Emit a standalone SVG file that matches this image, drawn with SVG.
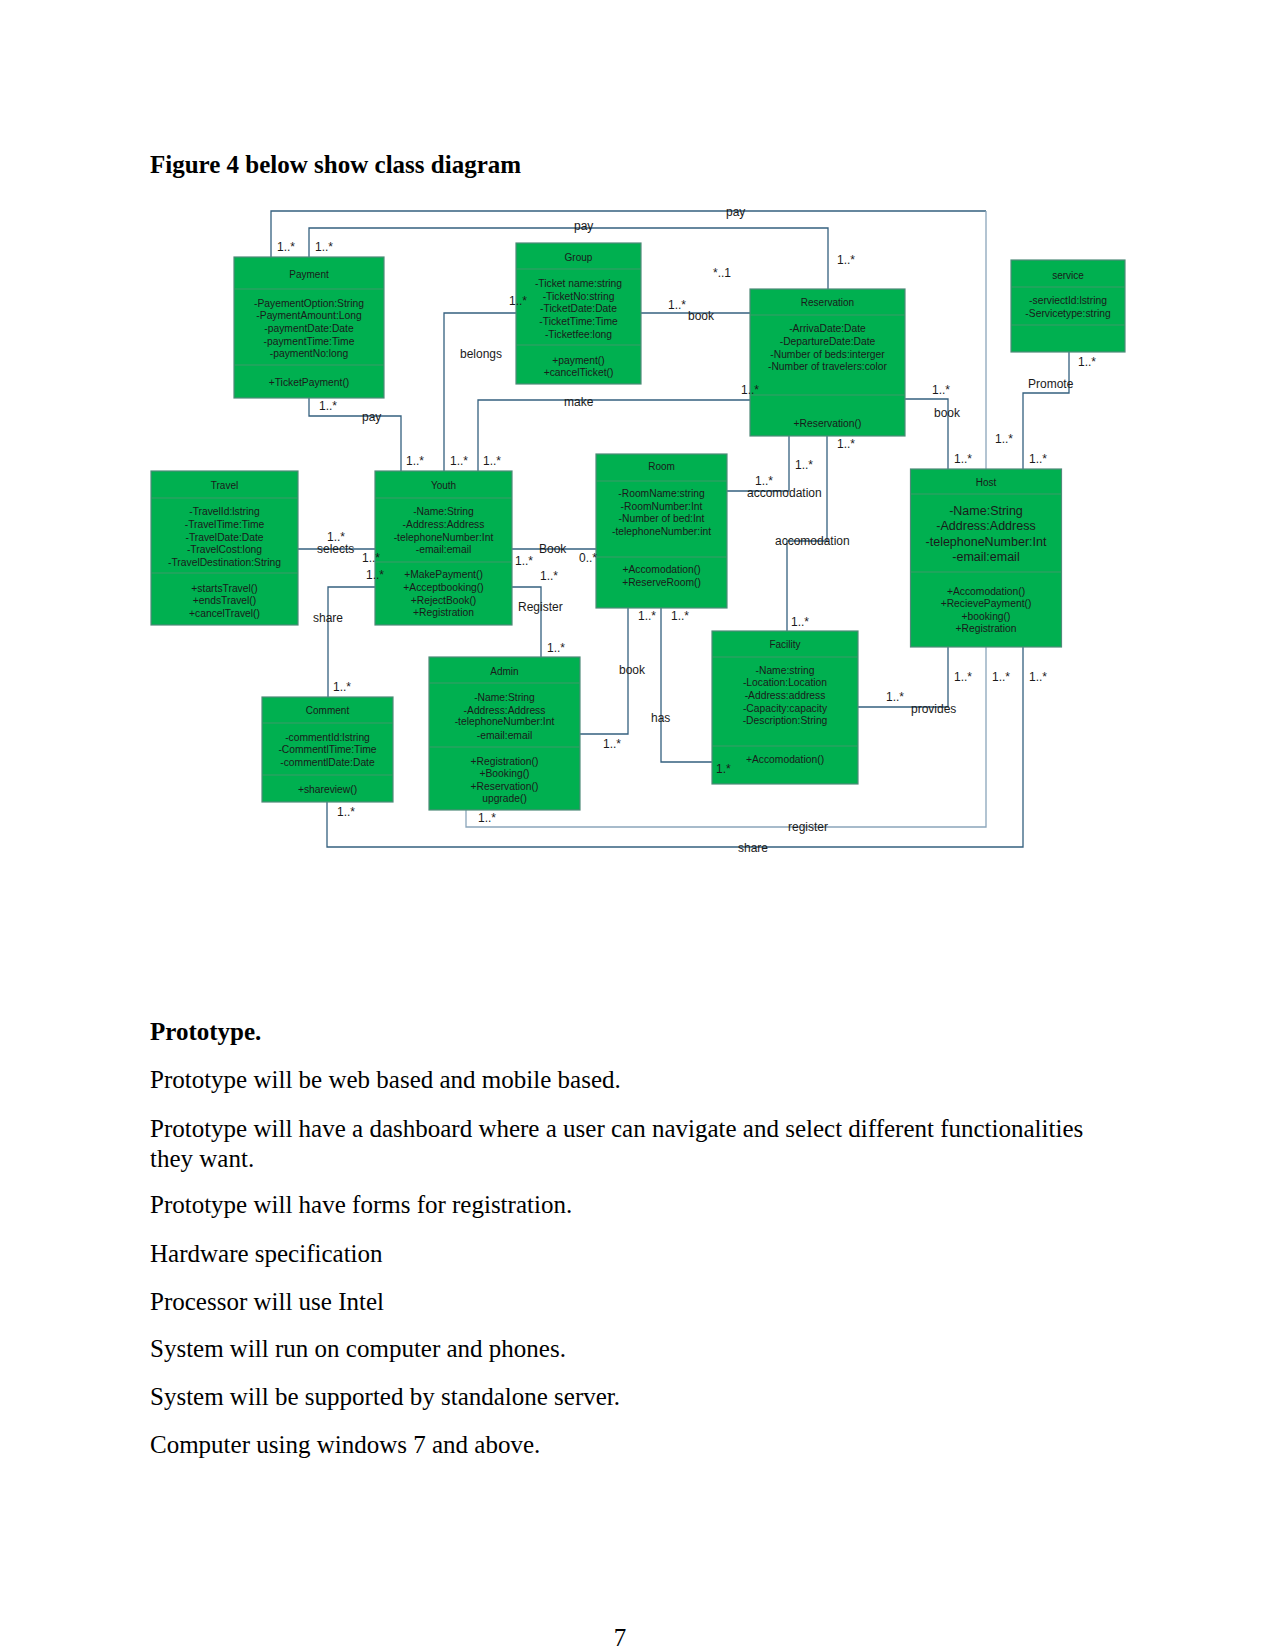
<svg xmlns="http://www.w3.org/2000/svg" width="1275" height="1650" viewBox="0 0 1275 1650">
<style>
.doc{font-family:"Liberation Serif","Times New Roman",serif;font-size:25px;fill:#000}
.b{font-weight:bold}
.box{fill:#00b050;stroke:#4f8a78;stroke-width:1.2}
.div{stroke:#3d9a68;stroke-width:1.2}
.t{font-family:"Liberation Sans",Arial,sans-serif;font-size:10px;fill:#1a1a1a;text-anchor:middle}
.a{font-family:"Liberation Sans",Arial,sans-serif;font-size:10.3px;fill:#1a1a1a;text-anchor:middle}
.big{font-size:12.5px}
.ln{fill:none;stroke:#34607f;stroke-width:1.3}
.lt{stroke:#8aa5ba}
.lb{font-family:"Liberation Sans",Arial,sans-serif;font-size:12px;fill:#1a1a1a}
</style>
<rect width="1275" height="1650" fill="#fff"/>
<text class="doc b" x="150" y="173">Figure 4 below show class diagram</text>

<g id="connectors">
<path class="ln" d="M271 257 V211 H986"/>
<path class="ln lt" d="M986 211 V469"/>
<path class="ln" d="M309 257 V228 H828 V289"/>
<path class="ln" d="M309 398 V416 H401 V471"/>
<path class="ln" d="M516 313 H444 V471"/>
<path class="ln" d="M750 400 H478 V471"/>
<path class="ln" d="M641 313 H750"/>
<path class="ln" d="M905 399 H948 V469"/>
<path class="ln" d="M1069 352 V393 H1023 V469"/>
<path class="ln" d="M298 549 H375"/>
<path class="ln" d="M375 587 H328 V697"/>
<path class="ln" d="M512 549 H596"/>
<path class="ln" d="M512 587 H541 V657"/>
<path class="ln" d="M727 491 H789 V436"/>
<path class="ln" d="M827 436 V541 H787 V631"/>
<path class="ln" d="M628 608 V734 H580"/>
<path class="ln" d="M661 608 V762 H712"/>
<path class="ln" d="M858 707 H948 V647"/>
<path class="ln lt" d="M466 810 V827 H986 V647"/>
<path class="ln" d="M327 802 V847 H1023 V647"/>
</g>

<g id="Payment">
<rect class="box" x="234" y="257" width="150" height="141"/>
<line class="div" x1="234" y1="289" x2="384" y2="289"/>
<line class="div" x1="234" y1="365" x2="384" y2="365"/>
<text class="t" x="309" y="277.5">Payment</text>
<text class="a" x="309" y="306.5">-PayementOption:String</text>
<text class="a" x="309" y="319">-PaymentAmount:Long</text>
<text class="a" x="309" y="331.5">-paymentDate:Date</text>
<text class="a" x="309" y="344.5">-paymentTime:Time</text>
<text class="a" x="309" y="356.5">-paymentNo:long</text>
<text class="a" x="309" y="385.5">+TicketPayment()</text>
</g>

<g id="Group">
<rect class="box" x="516" y="243" width="125" height="141"/>
<line class="div" x1="516" y1="269" x2="641" y2="269"/>
<line class="div" x1="516" y1="345" x2="641" y2="345"/>
<text class="t" x="578.5" y="261">Group</text>
<text class="a" x="578.5" y="286.5">-Ticket name:string</text>
<text class="a" x="578.5" y="299.5">-TicketNo:string</text>
<text class="a" x="578.5" y="312">-TicketDate:Date</text>
<text class="a" x="578.5" y="324.5">-TicketTime:Time</text>
<text class="a" x="578.5" y="337.5">-Ticketfee:long</text>
<text class="a" x="578.5" y="363.5">+payment()</text>
<text class="a" x="578.5" y="375.5">+cancelTicket()</text>
</g>

<g id="Reservation">
<rect class="box" x="750" y="289" width="155" height="147"/>
<line class="div" x1="750" y1="315" x2="905" y2="315"/>
<line class="div" x1="750" y1="395" x2="905" y2="395"/>
<text class="t" x="827.5" y="306">Reservation</text>
<text class="a" x="827.5" y="332">-ArrivaDate:Date</text>
<text class="a" x="827.5" y="345">-DepartureDate:Date</text>
<text class="a" x="827.5" y="357.5">-Number of beds:interger</text>
<text class="a" x="827.5" y="370">-Number of travelers:color</text>
<text class="a" x="827.5" y="427">+Reservation()</text>
</g>

<g id="service">
<rect class="box" x="1011" y="260" width="114" height="92"/>
<line class="div" x1="1011" y1="287" x2="1125" y2="287"/>
<line class="div" x1="1011" y1="325" x2="1125" y2="325"/>
<text class="t" x="1068" y="278.5">service</text>
<text class="a" x="1068" y="304">-serviectId:lstring</text>
<text class="a" x="1068" y="317">-Servicetype:string</text>
</g>

<g id="Travel">
<rect class="box" x="151" y="471" width="147" height="154"/>
<line class="div" x1="151" y1="498" x2="298" y2="498"/>
<line class="div" x1="151" y1="573" x2="298" y2="573"/>
<text class="t" x="224.5" y="489">Travel</text>
<text class="a" x="224.5" y="515">-TravelId:lstring</text>
<text class="a" x="224.5" y="527.5">-TravelTime:Time</text>
<text class="a" x="224.5" y="540.5">-TravelDate:Date</text>
<text class="a" x="224.5" y="552.5">-TravelCost:long</text>
<text class="a" x="224.5" y="565.5">-TravelDestination:String</text>
<text class="a" x="224.5" y="592">+startsTravel()</text>
<text class="a" x="224.5" y="604">+endsTravel()</text>
<text class="a" x="224.5" y="616.5">+cancelTravel()</text>
</g>

<g id="Youth">
<rect class="box" x="375" y="471" width="137" height="154"/>
<line class="div" x1="375" y1="498" x2="512" y2="498"/>
<line class="div" x1="375" y1="562" x2="512" y2="562"/>
<text class="t" x="443.5" y="489">Youth</text>
<text class="a" x="443.5" y="515">-Name:String</text>
<text class="a" x="443.5" y="527.5">-Address:Address</text>
<text class="a" x="443.5" y="540.5">-telephoneNumber:Int</text>
<text class="a" x="443.5" y="552.5">-email:email</text>
<text class="a" x="443.5" y="578">+MakePayment()</text>
<text class="a" x="443.5" y="591">+Acceptbooking()</text>
<text class="a" x="443.5" y="603.5">+RejectBook()</text>
<text class="a" x="443.5" y="616">+Registration</text>
</g>

<g id="Room">
<rect class="box" x="596" y="454" width="131" height="154"/>
<line class="div" x1="596" y1="481" x2="727" y2="481"/>
<line class="div" x1="596" y1="557" x2="727" y2="557"/>
<text class="t" x="661.5" y="470">Room</text>
<text class="a" x="661.5" y="496.5">-RoomName:string</text>
<text class="a" x="661.5" y="509.5">-RoomNumber:Int</text>
<text class="a" x="661.5" y="521.5">-Number of bed:Int</text>
<text class="a" x="661.5" y="534.5">-telephoneNumber:int</text>
<text class="a" x="661.5" y="573">+Accomodation()</text>
<text class="a" x="661.5" y="585.5">+ReserveRoom()</text>
</g>

<g id="Host">
<rect class="box" x="910.5" y="469" width="151" height="178"/>
<line class="div" x1="910.5" y1="494" x2="1061.5" y2="494"/>
<line class="div" x1="910.5" y1="572" x2="1061.5" y2="572"/>
<text class="t" x="986" y="486">Host</text>
<text class="a big" x="986" y="514.5">-Name:String</text>
<text class="a big" x="986" y="530">-Address:Address</text>
<text class="a big" x="986" y="545.5">-telephoneNumber:Int</text>
<text class="a big" x="986" y="561">-email:email</text>
<text class="a" x="986" y="595">+Accomodation()</text>
<text class="a" x="986" y="607">+RecievePayment()</text>
<text class="a" x="986" y="619.5">+booking()</text>
<text class="a" x="986" y="632">+Registration</text>
</g>

<g id="Comment">
<rect class="box" x="262" y="697" width="131" height="105"/>
<line class="div" x1="262" y1="723" x2="393" y2="723"/>
<line class="div" x1="262" y1="775" x2="393" y2="775"/>
<text class="t" x="327.5" y="714">Comment</text>
<text class="a" x="327.5" y="741">-commentId:lstring</text>
<text class="a" x="327.5" y="753">-CommentlTime:Time</text>
<text class="a" x="327.5" y="766">-commentlDate:Date</text>
<text class="a" x="327.5" y="793">+shareview()</text>
</g>

<g id="Admin">
<rect class="box" x="429" y="657" width="151" height="153"/>
<line class="div" x1="429" y1="683" x2="580" y2="683"/>
<line class="div" x1="429" y1="747" x2="580" y2="747"/>
<text class="t" x="504.5" y="674.5">Admin</text>
<text class="a" x="504.5" y="701">-Name:String</text>
<text class="a" x="504.5" y="713.5">-Address:Address</text>
<text class="a" x="504.5" y="725">-telephoneNumber:Int</text>
<text class="a" x="504.5" y="739">-email:email</text>
<text class="a" x="504.5" y="764.5">+Registration()</text>
<text class="a" x="504.5" y="777">+Booking()</text>
<text class="a" x="504.5" y="789.5">+Reservation()</text>
<text class="a" x="504.5" y="802">upgrade()</text>
</g>

<g id="Facility">
<rect class="box" x="712" y="631" width="146" height="153"/>
<line class="div" x1="712" y1="657" x2="858" y2="657"/>
<line class="div" x1="712" y1="746" x2="858" y2="746"/>
<text class="t" x="785" y="647.5">Facility</text>
<text class="a" x="785" y="673.5">-Name:string</text>
<text class="a" x="785" y="686">-Location:Location</text>
<text class="a" x="785" y="699">-Address:address</text>
<text class="a" x="785" y="711.5">-Capacity:capacity</text>
<text class="a" x="785" y="723.5">-Description:String</text>
<text class="a" x="785" y="762.5">+Accomodation()</text>
</g>

<g id="labels">
<text class="lb" x="277" y="251">1..*</text>
<text class="lb" x="315" y="251">1..*</text>
<text class="lb" x="726" y="216">pay</text>
<text class="lb" x="574" y="230">pay</text>
<text class="lb" x="509" y="305">1..*</text>
<text class="lb" x="460" y="358">belongs</text>
<text class="lb" x="668" y="309">1..*</text>
<text class="lb" x="688" y="320">book</text>
<text class="lb" x="713" y="277">*..1</text>
<text class="lb" x="837" y="264">1..*</text>
<text class="lb" x="741" y="394">1..*</text>
<text class="lb" x="564" y="406">make</text>
<text class="lb" x="1078" y="366">1..*</text>
<text class="lb" x="1028" y="388">Promote</text>
<text class="lb" x="995" y="443">1..*</text>
<text class="lb" x="1029" y="463">1..*</text>
<text class="lb" x="932" y="394">1..*</text>
<text class="lb" x="934" y="417">book</text>
<text class="lb" x="954" y="463">1..*</text>
<text class="lb" x="319" y="410">1..*</text>
<text class="lb" x="362" y="421">pay</text>
<text class="lb" x="406" y="465">1..*</text>
<text class="lb" x="450" y="465">1..*</text>
<text class="lb" x="483" y="465">1..*</text>
<text class="lb" x="327" y="541">1..*</text>
<text class="lb" x="317" y="553">selects</text>
<text class="lb" x="362" y="562">1..*</text>
<text class="lb" x="366" y="579">1..*</text>
<text class="lb" x="313" y="622">share</text>
<text class="lb" x="539" y="553">Book</text>
<text class="lb" x="515" y="565">1..*</text>
<text class="lb" x="540" y="580">1..*</text>
<text class="lb" x="518" y="611">Register</text>
<text class="lb" x="579" y="562">0..*</text>
<text class="lb" x="755" y="485">1..*</text>
<text class="lb" x="747" y="497">accomodation</text>
<text class="lb" x="795" y="469">1..*</text>
<text class="lb" x="837" y="448">1..*</text>
<text class="lb" x="775" y="545">accomodation</text>
<text class="lb" x="791" y="626">1..*</text>
<text class="lb" x="638" y="620">1..*</text>
<text class="lb" x="671" y="620">1..*</text>
<text class="lb" x="954" y="681">1..*</text>
<text class="lb" x="992" y="681">1..*</text>
<text class="lb" x="1029" y="681">1..*</text>
<text class="lb" x="886" y="701">1..*</text>
<text class="lb" x="911" y="713">provides</text>
<text class="lb" x="333" y="691">1..*</text>
<text class="lb" x="337" y="816">1..*</text>
<text class="lb" x="547" y="652">1..*</text>
<text class="lb" x="478" y="822">1..*</text>
<text class="lb" x="619" y="674">book</text>
<text class="lb" x="603" y="748">1..*</text>
<text class="lb" x="651" y="722">has</text>
<text class="lb" x="716" y="773">1.*</text>
<text class="lb" x="788" y="831">register</text>
<text class="lb" x="738" y="852">share</text>
</g>

<text class="doc b" x="150" y="1040">Prototype.</text>
<text class="doc" x="150" y="1088">Prototype will be web based and mobile based.</text>
<text class="doc" x="150" y="1137">Prototype will have a dashboard where a user can navigate and select different functionalities</text>
<text class="doc" x="150" y="1167">they want.</text>
<text class="doc" x="150" y="1213">Prototype will have forms for registration.</text>
<text class="doc" x="150" y="1262">Hardware specification</text>
<text class="doc" x="150" y="1310">Processor will use Intel</text>
<text class="doc" x="150" y="1357">System will run on computer and phones.</text>
<text class="doc" x="150" y="1405">System will be supported by standalone server.</text>
<text class="doc" x="150" y="1453">Computer using windows 7 and above.</text>
<text class="doc" x="620" y="1646" text-anchor="middle">7</text>
</svg>
